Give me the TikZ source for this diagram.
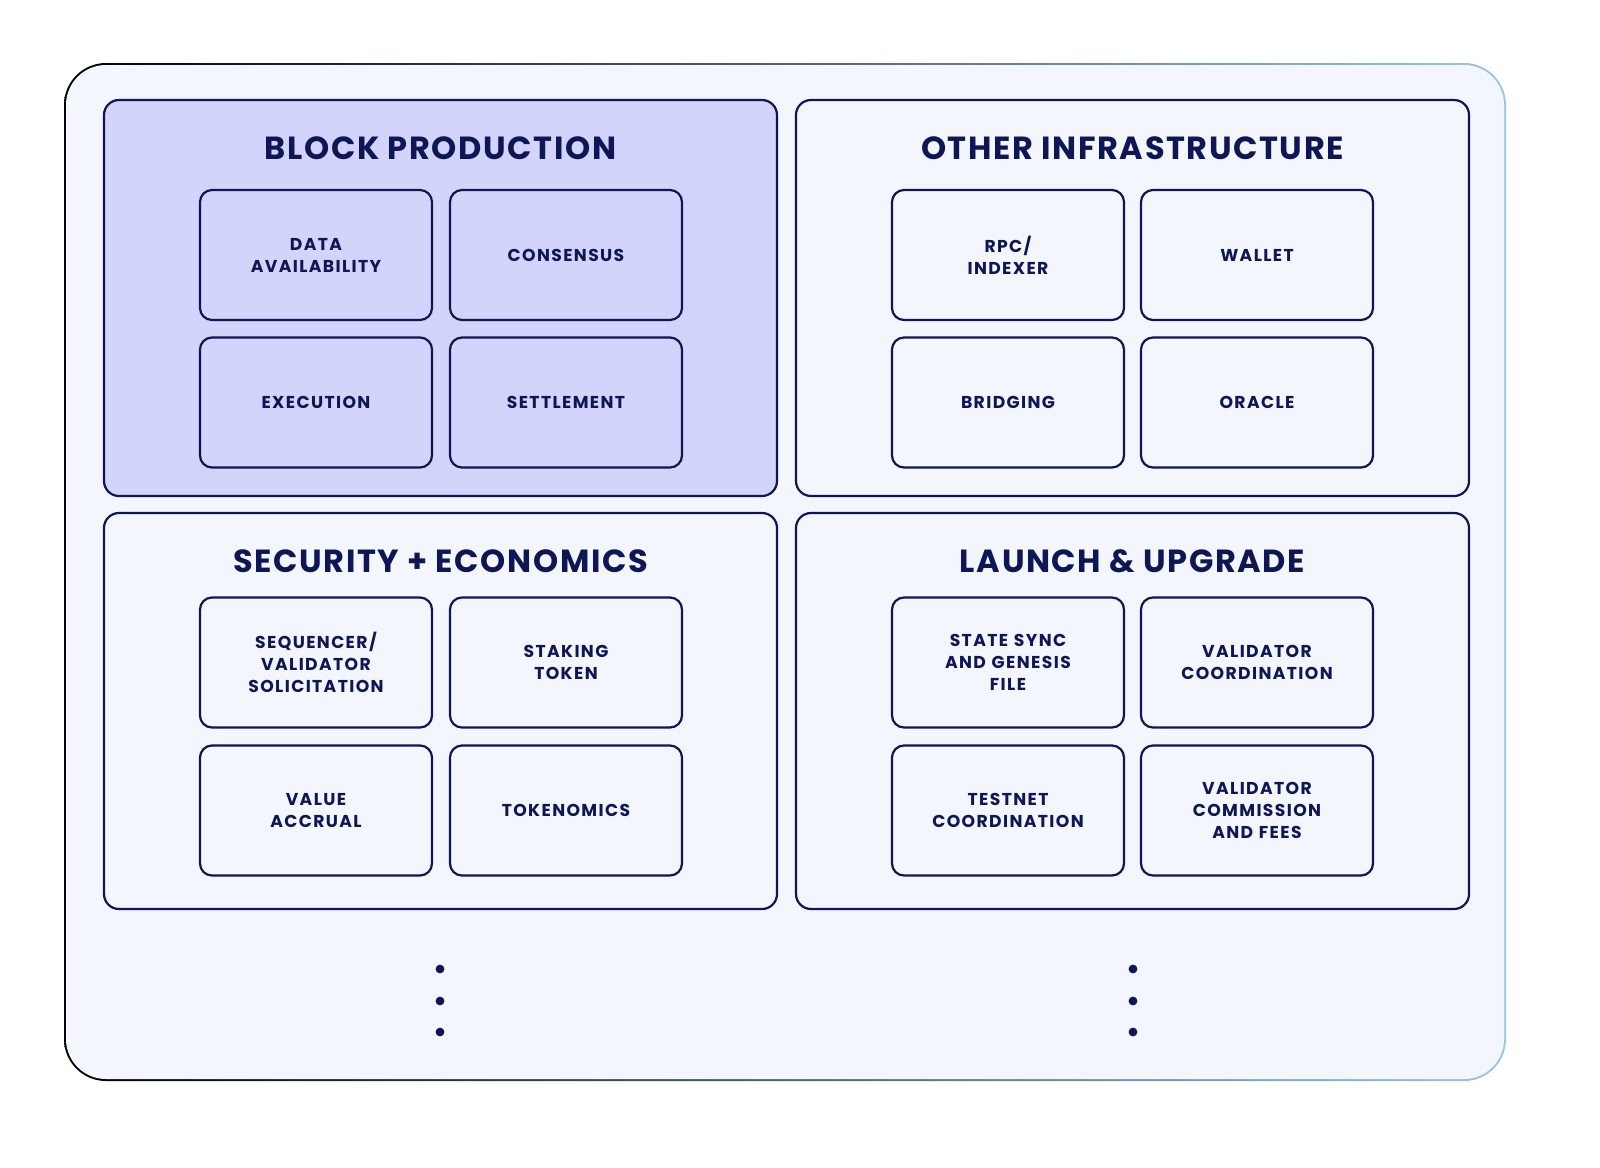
\documentclass[tikz,border=0pt]{standalone}
\usepackage{fontspec}
\setmainfont{Poppins}
\newfontfamily\headfont{Poppins}[LetterSpace=5]
\newfontfamily\boxfont{Poppins}[LetterSpace=8]
\definecolor{navy}{HTML}{0F1656}
\definecolor{paper}{HTML}{F4F6FE}
\definecolor{lavender}{HTML}{D3D4FB}
\definecolor{edgeviolet}{HTML}{7462DC}
\definecolor{edgeblue}{HTML}{9CC6EA}
\begin{document}
\begin{tikzpicture}[x=0.5pt, y=-0.5pt]

      \tikzstyle{panel_style} = [draw=navy, line width=1.1pt, rounded corners=7.5pt, minimum width=336.5pt, minimum height=198pt, inner sep=0pt]
        \tikzstyle{box_style} = [draw=navy, line width=1.1pt, rounded corners=6pt, minimum width=116pt, minimum height=65pt, inner sep=0pt, text width=110pt, align=center, text=navy, font=\boxfont\bfseries\fontsize{8.6}{11}\selectfont]
            \tikzstyle{title_style} = [text=navy, font=\headfont\bfseries\fontsize{16}{18}\selectfont]

      \useasboundingbox (0,0) rectangle (1600,1167);

      % outer frame with shaded edge
      \shade[shading=axis, left color=black, middle color=edgeviolet, right color=edgeblue, rounded corners=21pt] (64,63) rectangle (1506,1081);
      \fill[paper, rounded corners=20pt] (66,65) rectangle (1504,1079);

            \draw
              (440.5, 298) node[panel_style, fill=lavender] (BP){}
              (1132.5, 298) node[panel_style, fill=paper] (OI){}
              (440.5, 711) node[panel_style, fill=paper] (SE){}
              (1132.5, 711) node[panel_style, fill=paper] (LU){};

            \draw
              (440.5, 148) node[title_style] (BPt){BLOCK PRODUCTION}
              (1132.5, 148) node[title_style] (OIt){OTHER INFRASTRUCTURE}
              (440.5, 561) node[title_style] (SEt){SECURITY + ECONOMICS}
              (1132.5, 561) node[title_style] (LUt){LAUNCH \& UPGRADE};

            \draw
              (316, 255) node[box_style, fill=lavender] (bp1){DATA\\AVAILABILITY}
              (566, 255) node[box_style, fill=lavender] (bp2){CONSENSUS}
              (316, 402.5) node[box_style, fill=lavender] (bp3){EXECUTION}
              (566, 402.5) node[box_style, fill=lavender] (bp4){SETTLEMENT}
              (1008, 255) node[box_style, fill=paper] (oi1){RPC/\\INDEXER}
              (1257, 255) node[box_style, fill=paper] (oi2){WALLET}
              (1008, 402.5) node[box_style, fill=paper] (oi3){BRIDGING}
              (1257, 402.5) node[box_style, fill=paper] (oi4){ORACLE}
              (316, 662.5) node[box_style, fill=paper] (se1){SEQUENCER/\\VALIDATOR\\SOLICITATION}
              (566, 662.5) node[box_style, fill=paper] (se2){STAKING\\TOKEN}
              (316, 810.5) node[box_style, fill=paper] (se3){VALUE\\ACCRUAL}
              (566, 810.5) node[box_style, fill=paper] (se4){TOKENOMICS}
              (1008, 662.5) node[box_style, fill=paper] (lu1){STATE SYNC\\AND GENESIS\\FILE}
              (1257, 662.5) node[box_style, fill=paper] (lu2){VALIDATOR\\COORDINATION}
              (1008, 810.5) node[box_style, fill=paper] (lu3){TESTNET\\COORDINATION}
              (1257, 810.5) node[box_style, fill=paper] (lu4){VALIDATOR\\COMMISSION\\AND FEES};

      % more to come
      \foreach \dy in {969, 1001, 1032} {
        \fill[navy] (440, \dy) circle (2.2pt);
        \fill[navy] (1133, \dy) circle (2.2pt);
      }
    \end{tikzpicture}
\end{document}
